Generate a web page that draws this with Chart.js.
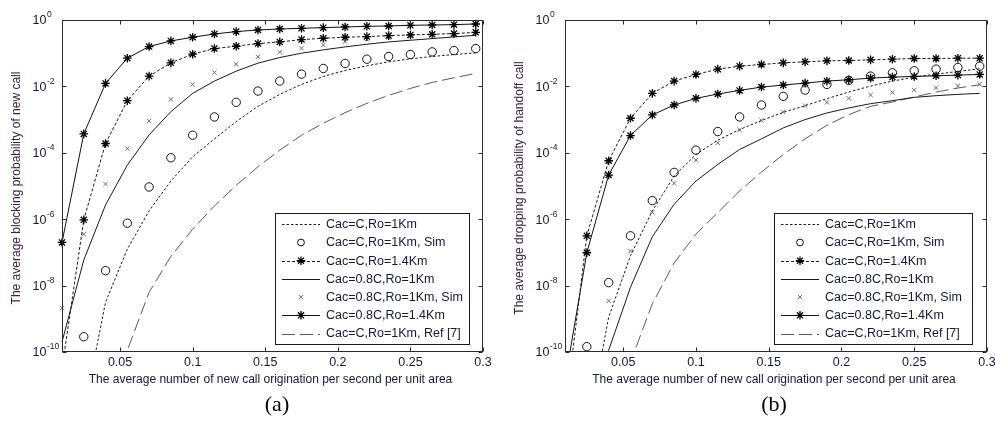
<!DOCTYPE html>
<html>
<head>
<meta charset="utf-8">
<script src="https://cdn.jsdelivr.net/npm/chart.js@4.4.1/dist/chart.umd.min.js"></script>
<style>
    html, body { margin: 0; padding: 0; background: #fff; }
    #wrap { position: relative; width: 995px; height: 423px; overflow: hidden; }
    canvas { position: absolute; top: 0; }
    #cvA { left: 0; }
    #cvB { left: 497px; }
</style>
</head>
<body>
<div id="wrap">
    <canvas id="cvA" width="497" height="423"></canvas>
    <canvas id="cvB" width="498" height="423"></canvas>
</div>
<script>
// ── Data ─────────────────────────────────────────────────────────────
// arrival rate of new calls (per second per unit area)
const arrivalRates = [0.01, 0.025, 0.04, 0.055, 0.07, 0.085, 0.1, 0.115, 0.13, 0.145,
                      0.16, 0.175, 0.19, 0.205, 0.22, 0.235, 0.25, 0.265, 0.28, 0.295];
const xTicks = [0.05, 0.1, 0.15, 0.2, 0.25, 0.3];
const yTickExps = [0, -2, -4, -6, -8, -10];

const seriesLabels = [
    'Cac=C,Ro=1Km',
    'Cac=C,Ro=1Km, Sim',
    'Cac=C,Ro=1.4Km',
    'Cac=0.8C,Ro=1Km',
    'Cac=0.8C,Ro=1Km, Sim',
    'Cac=0.8C,Ro=1.4Km',
    'Cac=C,Ro=1Km, Ref [7]'
];

// values are log10(probability); null = not plotted
// (a) blocking probability of new call
const blockC1      = [null, -11.8, -8.5, -6.9, -5.75, -4.85, -4.12, -3.58, -3.06, -2.6, -2.24, -1.94, -1.7, -1.52, -1.38, -1.26, -1.17, -1.1, -1.04, -0.99];
const blockC1Sim   = [null, -9.54, -7.55, -6.12, -5.03, -4.15, -3.47, -2.92, -2.48, -2.14, -1.84, -1.63, -1.46, -1.31, -1.18, -1.1, -1.04, -0.96, -0.92, -0.86];
const blockC14     = [-10.5, -6.02, -3.72, -2.43, -1.69, -1.29, -1.03, -0.86, -0.79, -0.71, -0.66, -0.59, -0.55, -0.52, -0.5, -0.47, -0.45, -0.43, -0.41, -0.37];
const block08C1    = [-9.7, -7.23, -5.57, -4.37, -3.46, -2.76, -2.21, -1.84, -1.54, -1.3, -1.13, -1.0, -0.9, -0.81, -0.73, -0.66, -0.61, -0.56, -0.51, -0.46];
const block08C1Sim = [-8.68, -6.45, -4.94, -3.87, -3.04, -2.39, -1.94, -1.58, -1.33, -1.11, -0.97, -0.85, -0.75, -0.65, -0.58, -0.53, -0.48, -0.45, -0.42, -0.38];
const block08C14   = [-6.7, -3.43, -1.91, -1.15, -0.8, -0.63, -0.52, -0.42, -0.35, -0.3, -0.27, -0.25, -0.23, -0.21, -0.19, -0.18, -0.16, -0.15, -0.14, -0.12];
const blockRef     = [null, null, -12.5, -9.95, -8.2, -7.12, -6.3, -5.6, -4.98, -4.42, -3.92, -3.47, -3.11, -2.79, -2.51, -2.27, -2.06, -1.88, -1.74, -1.61];

// (b) dropping probability of handoff call
const dropC1      = [null, -12.5, -8.95, -7.1, -5.75, -4.7, -4.05, -3.62, -3.3, -3.03, -2.78, -2.58, -2.37, -2.17, -1.99, -1.84, -1.72, -1.63, -1.55, -1.47];
const dropC1Sim   = [null, -9.84, -7.91, -6.5, -5.44, -4.59, -3.92, -3.36, -2.92, -2.56, -2.3, -2.11, -1.94, -1.82, -1.69, -1.59, -1.53, -1.48, -1.43, -1.39];
const dropC14     = [-11.9, -6.5, -4.24, -2.96, -2.21, -1.84, -1.64, -1.48, -1.39, -1.34, -1.29, -1.26, -1.23, -1.22, -1.2, -1.18, -1.16, -1.16, -1.15, -1.15];
const drop08C1    = [null, -13, -9.95, -8.05, -6.53, -5.55, -4.85, -4.35, -3.9, -3.58, -3.25, -3.0, -2.8, -2.65, -2.52, -2.43, -2.33, -2.28, -2.24, -2.21];
const drop08C1Sim = [null, null, -8.46, -6.96, -5.79, -4.92, -4.22, -3.7, -3.31, -3.02, -2.77, -2.58, -2.48, -2.36, -2.26, -2.18, -2.11, -2.04, -1.98, -1.94];
const drop08C14   = [-10.88, -7.01, -4.67, -3.48, -2.86, -2.56, -2.36, -2.23, -2.12, -2.02, -1.96, -1.9, -1.84, -1.8, -1.75, -1.72, -1.7, -1.68, -1.66, -1.64];
const dropRef     = [null, null, -13, -10.3, -8.55, -7.32, -6.45, -5.8, -5.15, -4.58, -4.05, -3.58, -3.17, -2.85, -2.6, -2.47, -2.32, -2.17, -2.05, -1.95];

// ── Styles ───────────────────────────────────────────────────────────
const TEXT_DARK = '#16163e';
const seriesStyles = [
    { showLine: true,  borderColor: '#1a1a1a', borderWidth: 1, borderDash: [2.5, 2], pointRadius: 0 },
    { showLine: false, pointStyle: 'circle', pointRadius: 4.2, pointBorderColor: '#111', pointBackgroundColor: 'rgba(0,0,0,0)', pointBorderWidth: 1 },
    { showLine: true,  borderColor: '#1a1a1a', borderWidth: 1, borderDash: [3, 2], pointStyle: 'star', pointRadius: 4.3, pointBorderColor: '#000', pointBorderWidth: 1.3 },
    { showLine: true,  borderColor: '#1a1a1a', borderWidth: 1, borderDash: [], pointRadius: 0 },
    { showLine: false, pointStyle: 'crossRot', pointRadius: 3, pointBorderColor: '#6a6a6a', pointBorderWidth: 1 },
    { showLine: true,  borderColor: '#111', borderWidth: 1, borderDash: [], pointStyle: 'star', pointRadius: 4.3, pointBorderColor: '#000', pointBorderWidth: 1.3 },
    { showLine: true,  borderColor: '#5a5a5a', borderWidth: 1, borderDash: [13, 5], pointRadius: 0 }
];

const toPoints = exps => arrivalRates.map((x, i) => ({ x, y: exps[i] == null ? null : Math.pow(10, exps[i]) }));

// ── Axes / legend plugin (MATLAB-like boxed axes) ────────────────────
const boxedAxes = {
    id: 'boxedAxes',
    afterDraw(chart, args, opts) {
        const { ctx, chartArea: a, scales: { x, y } } = chart;
        ctx.save();

        // frame
        ctx.strokeStyle = '#2b2b2b';
        ctx.lineWidth = 1;
        ctx.setLineDash([]);
        const L = Math.round(a.left) + 0.5, R = Math.round(a.right) - 0.5;
        const T = Math.round(a.top) + 0.5, B = Math.round(a.bottom) - 0.5;
        ctx.strokeRect(L, T, R - L, B - T);

        // inward ticks
        ctx.beginPath();
        xTicks.forEach(v => {
            const px = Math.round(x.getPixelForValue(v)) + 0.5;
            ctx.moveTo(px, B); ctx.lineTo(px, B - 4);
            ctx.moveTo(px, T); ctx.lineTo(px, T + 4);
        });
        yTickExps.forEach(e => {
            const py = Math.round(y.getPixelForValue(Math.pow(10, e))) + 0.5;
            ctx.moveTo(L, py); ctx.lineTo(L + 4, py);
            ctx.moveTo(R, py); ctx.lineTo(R - 4, py);
        });
        ctx.stroke();

        // tick labels
        ctx.fillStyle = TEXT_DARK;
        ctx.font = '12.5px "Liberation Sans", Arial, sans-serif';
        ctx.textAlign = 'center';
        ctx.textBaseline = 'middle';
        xTicks.forEach(v => ctx.fillText(String(v), x.getPixelForValue(v), a.bottom + 11));

        yTickExps.forEach(e => {
            const py = y.getPixelForValue(Math.pow(10, e));
            const lx = a.left - 29.5;
            ctx.font = '12.5px "Liberation Sans", Arial, sans-serif';
            ctx.textAlign = 'left';
            ctx.fillText('10', lx, py + 1);
            const w = ctx.measureText('10').width;
            ctx.font = '8.5px "Liberation Sans", Arial, sans-serif';
            ctx.fillText(String(e), lx + w + 0.5, py - 5);
        });

        // axis titles
        ctx.font = '12px "Liberation Sans", Arial, sans-serif';
        ctx.textAlign = 'center';
        ctx.fillStyle = TEXT_DARK;
        ctx.fillText(opts.xTitle, (a.left + a.right) / 2 - 2, a.bottom + 28);

        ctx.save();
        ctx.translate(a.left - 45, 188);
        ctx.rotate(-Math.PI / 2);
        ctx.fillStyle = opts.yTitleColor;
        ctx.fillText(opts.yTitle, 0, 0);
        ctx.restore();

        // legend
        const lg = opts.legend;
        ctx.fillStyle = '#fff';
        ctx.fillRect(lg.x, lg.y, lg.w, lg.h);
        ctx.strokeStyle = '#1a1a1a';
        ctx.strokeRect(lg.x + 0.5, lg.y + 0.5, lg.w, lg.h);

        chart.data.datasets.forEach((ds, i) => {
            const ry = lg.y + 11.3 + i * 18.2;
            const x0 = lg.x + 7, x1 = lg.x + 45;
            if (ds.showLine) {
                ctx.strokeStyle = ds.borderColor;
                ctx.lineWidth = ds.borderWidth;
                ctx.setLineDash(ds.borderDash || []);
                ctx.beginPath();
                ctx.moveTo(x0, Math.round(ry) + 0.5);
                ctx.lineTo(x1, Math.round(ry) + 0.5);
                ctx.stroke();
            }
            ctx.setLineDash([]);
            if (ds.pointRadius > 0) {
                ctx.strokeStyle = ds.pointBorderColor;
                ctx.fillStyle = 'rgba(0,0,0,0)';
                ctx.lineWidth = ds.pointBorderWidth;
                Chart.helpers.drawPoint(ctx, {
                    pointStyle: ds.pointStyle,
                    radius: ds.pointStyle === 'circle' ? 3.4 : ds.pointRadius,
                    borderWidth: ds.pointBorderWidth,
                    rotation: 0
                }, (x0 + x1) / 2, ry);
            }
            ctx.fillStyle = TEXT_DARK;
            ctx.font = '12.5px "Liberation Sans", Arial, sans-serif';
            ctx.textAlign = 'left';
            ctx.textBaseline = 'middle';
            ctx.fillText(ds.label, lg.x + 51, ry + 0.5);
        });

        // panel caption
        ctx.fillStyle = '#000';
        ctx.font = '22px "Liberation Serif", "Times New Roman", serif';
        ctx.textAlign = 'center';
        ctx.textBaseline = 'alphabetic';
        ctx.fillText(opts.caption, 277, 411);

        ctx.restore();
    }
};

// ── Panels ───────────────────────────────────────────────────────────
const xTitle = 'The average number of new call origination per second per unit area';
const panels = [
    {
        id: 'cvA',
        series: [blockC1, blockC1Sim, blockC14, block08C1, block08C1Sim, block08C14, blockRef],
        yTitle: 'The average blocking probability of new call',
        caption: '(a)',
        padding: { left: 62, right: 14, top: 20, bottom: 71 },
        legend: { x: 275, y: 213, w: 194, h: 131 }
    },
    {
        id: 'cvB',
        series: [dropC1, dropC1Sim, dropC14, drop08C1, drop08C1Sim, drop08C14, dropRef],
        yTitle: 'The average dropping probability of handoff call',
        caption: '(b)',
        padding: { left: 68, right: 8, top: 20, bottom: 71 },
        legend: { x: 277, y: 213, w: 198, h: 131 }
    }
];

panels.forEach(p => {
    const datasets = p.series.map((exps, i) => ({
        label: seriesLabels[i],
        data: toPoints(exps),
        fill: false,
        spanGaps: false,
        clip: { left: 8, top: 8, right: 8, bottom: 0 },
        ...seriesStyles[i]
    }));

    new Chart(document.getElementById(p.id), {
        type: 'line',
        data: { datasets },
        options: {
            responsive: false,
            animation: false,
            devicePixelRatio: 1,
            layout: { padding: p.padding },
            elements: { line: { tension: 0 } },
            plugins: {
                legend: { display: false },
                tooltip: { enabled: false },
                boxedAxes: {
                    xTitle,
                    yTitle: p.yTitle,
                    yTitleColor: '#3a2040',
                    caption: p.caption,
                    legend: p.legend
                }
            },
            scales: {
                x: { type: 'linear', min: 0.01, max: 0.3, display: false },
                y: { type: 'logarithmic', min: 1e-10, max: 1, display: false }
            }
        },
        plugins: [boxedAxes]
    });
});
</script>
</body>
</html>
